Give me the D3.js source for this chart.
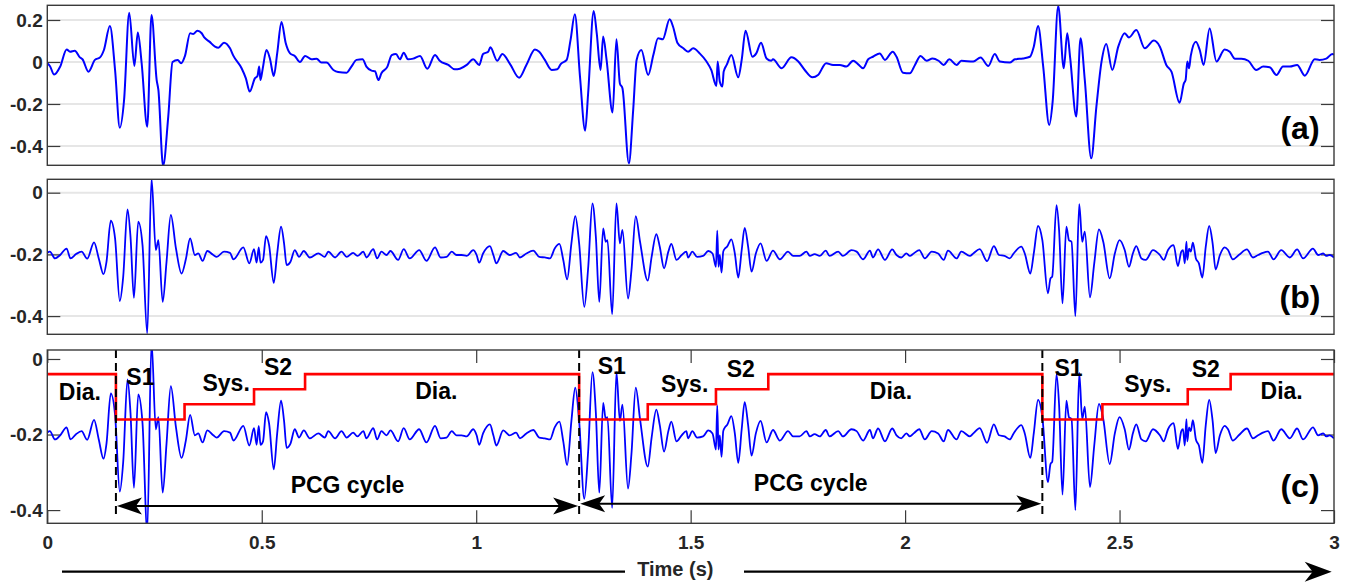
<!DOCTYPE html>
<html><head><meta charset="utf-8">
<script src="https://cdn.jsdelivr.net/npm/d3@7"></script>
<style>
body{margin:0;background:#fff}
svg{display:block}
text{font-family:"Liberation Sans",Arial,Helvetica,sans-serif;font-weight:bold}
</style>
</head><body>
<svg id="chart" width="1351" height="583"></svg>
<script>
// ---------------- DATA ----------------
// raw PCG signal (panel a): [time s, amplitude]
const rawSignal = [[0,-0.006],[0.006,-0.019],[0.016,-0.060],[0.030,-0.022],[0.045,0.060],[0.053,0.049],[0.064,0.054],[0.076,0.022],[0.082,0.013],[0.096,-0.046],[0.111,0.010],[0.123,0.022],[0.132,0.057],[0.146,0.171],[0.158,-0.038],[0.169,-0.313],[0.179,-0.181],[0.191,0.235],[0.203,-0.019],[0.211,0.140],[0.220,-0.006],[0.233,-0.308],[0.243,0.224],[0.255,-0.086],[0.259,-0.133],[0.270,-0.495],[0.282,-0.260],[0.292,0.000],[0.304,0.010],[0.312,-0.006],[0.321,0.029],[0.333,0.137],[0.340,0.133],[0.350,0.149],[0.360,0.137],[0.366,0.117],[0.378,0.097],[0.391,0.073],[0.399,0.068],[0.412,0.092],[0.426,0.065],[0.434,0.029],[0.453,-0.030],[0.463,-0.078],[0.472,-0.141],[0.484,-0.078],[0.490,-0.067],[0.494,-0.022],[0.497,-0.086],[0.502,-0.035],[0.511,0.057],[0.519,0.017],[0.528,-0.067],[0.536,0.041],[0.546,0.190],[0.556,0.089],[0.566,0.041],[0.577,0.029],[0.589,0.000],[0.601,0.029],[0.616,0.013],[0.628,0.016],[0.639,-0.003],[0.651,-0.003],[0.667,-0.038],[0.678,-0.048],[0.698,-0.051],[0.709,-0.022],[0.721,0.010],[0.735,0.013],[0.744,-0.022],[0.756,-0.041],[0.764,-0.044],[0.772,-0.086],[0.779,-0.054],[0.793,-0.022],[0.803,0.033],[0.813,0.038],[0.822,0.013],[0.831,0.044],[0.841,0.013],[0.853,0.016],[0.869,0.029],[0.886,-0.032],[0.904,0.033],[0.915,0.006],[0.935,-0.014],[0.950,-0.035],[0.962,-0.032],[0.978,-0.014],[0.993,0.013],[1.007,-0.014],[1.016,0.038],[1.028,0.049],[1.033,0.070],[1.049,0.006],[1.061,0.038],[1.079,-0.010],[1.100,-0.075],[1.117,-0.014],[1.137,0.060],[1.147,0.049],[1.160,0.010],[1.176,-0.038],[1.189,-0.035],[1.197,-0.010],[1.211,0.010],[1.220,0.105],[1.230,0.227],[1.242,-0.070],[1.254,-0.327],[1.261,-0.149],[1.274,0.243],[1.281,0.137],[1.290,-0.038],[1.296,0.121],[1.304,0.010],[1.318,-0.241],[1.327,0.108],[1.335,-0.102],[1.341,-0.125],[1.356,-0.483],[1.366,-0.229],[1.374,0.010],[1.385,0.057],[1.401,-0.062],[1.413,0.033],[1.424,0.113],[1.435,0.108],[1.451,0.203],[1.459,0.168],[1.469,0.092],[1.483,0.065],[1.494,0.049],[1.506,0.065],[1.521,0.041],[1.537,0.002],[1.548,-0.038],[1.560,-0.114],[1.563,0.002],[1.568,-0.094],[1.574,-0.117],[1.577,-0.046],[1.584,-0.014],[1.595,0.033],[1.611,-0.073],[1.619,0.010],[1.628,0.149],[1.644,0.025],[1.653,0.041],[1.664,0.092],[1.677,0.017],[1.688,0.006],[1.692,0.013],[1.712,-0.030],[1.735,0.022],[1.751,0.002],[1.766,-0.038],[1.784,-0.073],[1.797,-0.062],[1.816,-0.006],[1.832,-0.014],[1.848,-0.014],[1.863,-0.022],[1.879,0.006],[1.890,-0.010],[1.902,-0.030],[1.914,0.013],[1.925,0.025],[1.941,0.041],[1.953,0.010],[1.971,0.049],[1.980,0.025],[1.995,-0.051],[2.011,-0.054],[2.023,-0.014],[2.036,0.029],[2.050,0.006],[2.064,0.017],[2.078,0.006],[2.090,-0.014],[2.103,0.013],[2.120,-0.014],[2.131,0.006],[2.159,0.002],[2.176,0.021],[2.194,-0.019],[2.209,0.038],[2.221,0.002],[2.244,-0.003],[2.256,0.013],[2.275,0.017],[2.291,0.025],[2.300,0.073],[2.310,0.171],[2.322,-0.022],[2.336,-0.300],[2.344,-0.189],[2.357,0.267],[2.370,-0.030],[2.378,0.137],[2.385,0.017],[2.399,-0.260],[2.409,0.113],[2.419,-0.086],[2.434,-0.459],[2.446,-0.213],[2.458,0.002],[2.469,0.086],[2.483,-0.038],[2.497,0.073],[2.512,0.137],[2.522,0.117],[2.539,0.152],[2.559,0.065],[2.580,0.102],[2.594,0.073],[2.609,-0.014],[2.621,-0.046],[2.640,-0.194],[2.650,-0.102],[2.654,-0.086],[2.658,0.002],[2.662,-0.030],[2.666,0.029],[2.678,0.097],[2.687,0.057],[2.696,-0.014],[2.710,0.160],[2.726,0.002],[2.745,0.060],[2.757,0.049],[2.769,0.016],[2.784,0.016],[2.800,0.006],[2.819,-0.038],[2.835,-0.022],[2.850,-0.025],[2.866,-0.062],[2.881,-0.022],[2.897,-0.022],[2.914,-0.014],[2.932,-0.065],[2.955,0.013],[2.966,0.010],[2.982,0.016],[2.996,0.038],[3.0,0.035]];

// filtered PCG signal (panels b and c): [time s, amplitude]
const filteredSignal = [[0.000,-0.195],[0.006,-0.191],[0.018,-0.213],[0.030,-0.202],[0.045,-0.181],[0.054,-0.213],[0.067,-0.199],[0.080,-0.191],[0.093,-0.214],[0.109,-0.161],[0.120,-0.213],[0.131,-0.264],[0.138,-0.224],[0.148,-0.091],[0.158,-0.148],[0.169,-0.351],[0.177,-0.272],[0.187,-0.054],[0.194,-0.143],[0.202,-0.341],[0.212,-0.094],[0.222,-0.170],[0.233,-0.456],[0.243,0.046],[0.253,-0.186],[0.259,-0.154],[0.269,-0.354],[0.278,-0.224],[0.288,-0.072],[0.300,-0.181],[0.313,-0.262],[0.323,-0.216],[0.333,-0.148],[0.344,-0.202],[0.352,-0.197],[0.362,-0.221],[0.373,-0.189],[0.387,-0.202],[0.395,-0.208],[0.412,-0.191],[0.426,-0.195],[0.434,-0.216],[0.457,-0.177],[0.471,-0.229],[0.482,-0.183],[0.488,-0.227],[0.493,-0.177],[0.497,-0.227],[0.503,-0.218],[0.510,-0.141],[0.517,-0.170],[0.528,-0.292],[0.536,-0.197],[0.545,-0.110],[0.552,-0.164],[0.558,-0.235],[0.567,-0.224],[0.577,-0.186],[0.587,-0.208],[0.598,-0.189],[0.612,-0.210],[0.632,-0.197],[0.647,-0.208],[0.655,-0.191],[0.671,-0.210],[0.686,-0.191],[0.698,-0.208],[0.713,-0.195],[0.723,-0.205],[0.737,-0.191],[0.744,-0.210],[0.760,-0.183],[0.769,-0.213],[0.779,-0.191],[0.791,-0.202],[0.800,-0.189],[0.818,-0.218],[0.831,-0.183],[0.845,-0.213],[0.867,-0.186],[0.884,-0.221],[0.904,-0.177],[0.917,-0.210],[0.931,-0.208],[0.943,-0.191],[0.954,-0.202],[0.966,-0.202],[0.978,-0.205],[0.993,-0.186],[1.001,-0.202],[1.007,-0.227],[1.016,-0.197],[1.032,-0.173],[1.040,-0.202],[1.047,-0.229],[1.063,-0.189],[1.078,-0.202],[1.093,-0.195],[1.102,-0.210],[1.117,-0.197],[1.133,-0.188],[1.147,-0.208],[1.160,-0.210],[1.172,-0.213],[1.183,-0.181],[1.194,-0.166],[1.203,-0.218],[1.212,-0.281],[1.222,-0.164],[1.231,-0.076],[1.240,-0.164],[1.252,-0.370],[1.261,-0.245],[1.271,-0.035],[1.279,-0.143],[1.287,-0.354],[1.296,-0.116],[1.302,-0.159],[1.306,-0.154],[1.317,-0.394],[1.327,-0.035],[1.335,-0.164],[1.341,-0.121],[1.354,-0.343],[1.362,-0.251],[1.372,-0.076],[1.382,-0.159],[1.400,-0.285],[1.409,-0.208],[1.420,-0.134],[1.428,-0.175],[1.438,-0.245],[1.448,-0.191],[1.455,-0.166],[1.467,-0.218],[1.479,-0.202],[1.490,-0.191],[1.494,-0.210],[1.504,-0.191],[1.515,-0.208],[1.529,-0.205],[1.541,-0.189],[1.551,-0.197],[1.559,-0.240],[1.562,-0.123],[1.565,-0.240],[1.568,-0.202],[1.572,-0.259],[1.576,-0.191],[1.580,-0.181],[1.585,-0.175],[1.595,-0.151],[1.603,-0.197],[1.611,-0.275],[1.619,-0.186],[1.626,-0.114],[1.634,-0.175],[1.642,-0.256],[1.652,-0.197],[1.663,-0.164],[1.677,-0.221],[1.692,-0.188],[1.708,-0.216],[1.727,-0.191],[1.739,-0.205],[1.754,-0.205],[1.770,-0.191],[1.778,-0.205],[1.789,-0.199],[1.801,-0.205],[1.815,-0.188],[1.824,-0.205],[1.844,-0.191],[1.855,-0.205],[1.875,-0.186],[1.887,-0.191],[1.902,-0.216],[1.918,-0.188],[1.925,-0.210],[1.937,-0.184],[1.953,-0.218],[1.970,-0.184],[1.980,-0.202],[1.991,-0.210],[2.003,-0.197],[2.011,-0.205],[2.020,-0.197],[2.033,-0.186],[2.046,-0.213],[2.062,-0.191],[2.077,-0.197],[2.090,-0.218],[2.100,-0.188],[2.120,-0.213],[2.131,-0.191],[2.151,-0.205],[2.159,-0.197],[2.174,-0.183],[2.191,-0.222],[2.207,-0.173],[2.219,-0.202],[2.232,-0.205],[2.244,-0.213],[2.253,-0.197],[2.271,-0.175],[2.279,-0.197],[2.292,-0.262],[2.300,-0.197],[2.310,-0.108],[2.320,-0.154],[2.333,-0.326],[2.339,-0.278],[2.343,-0.272],[2.353,-0.040],[2.359,-0.121],[2.367,-0.359],[2.376,-0.110],[2.382,-0.154],[2.388,-0.159],[2.397,-0.400],[2.406,-0.037],[2.413,-0.159],[2.419,-0.126],[2.431,-0.339],[2.441,-0.229],[2.452,-0.119],[2.462,-0.159],[2.477,-0.278],[2.489,-0.197],[2.500,-0.154],[2.512,-0.186],[2.522,-0.240],[2.531,-0.197],[2.539,-0.173],[2.551,-0.213],[2.561,-0.218],[2.578,-0.186],[2.594,-0.202],[2.603,-0.218],[2.613,-0.186],[2.626,-0.170],[2.636,-0.238],[2.644,-0.191],[2.648,-0.186],[2.652,-0.229],[2.656,-0.159],[2.658,-0.218],[2.662,-0.181],[2.666,-0.191],[2.671,-0.162],[2.678,-0.213],[2.685,-0.229],[2.693,-0.275],[2.701,-0.175],[2.709,-0.108],[2.717,-0.164],[2.724,-0.249],[2.734,-0.202],[2.745,-0.177],[2.753,-0.186],[2.764,-0.216],[2.778,-0.202],[2.797,-0.184],[2.811,-0.210],[2.823,-0.202],[2.834,-0.195],[2.846,-0.191],[2.859,-0.216],[2.877,-0.186],[2.897,-0.210],[2.914,-0.184],[2.928,-0.213],[2.951,-0.181],[2.963,-0.202],[2.975,-0.197],[2.982,-0.205],[2.990,-0.202],[3.000,-0.210]];

// segmentation states (panel c)
const stateBounds = [0,0.16,0.32,0.482,0.601,1.24,1.40,1.559,1.681,2.32,2.46,2.659,2.759,3];
const stateNames  = ["Dia.","S1","Sys.","S2","Dia.","S1","Sys.","S2","Dia.","S1","Sys.","S2","Dia."];
const stateLevelNames = ["Dia.","S1","Sys.","S2"];
const stateLevelValues = [-0.04,-0.16,-0.12,-0.08];
const cycleStarts = [0.16,1.24,2.32];
const cycleArrowLevels = [-0.389,-0.383];

// axis ticks
const xTicks = [0,0.5,1,1.5,2,2.5,3];
const xTickLabels = ["0","0.5","1","1.5","2","2.5","3"];
const yTicksA = [-0.4,-0.2,0,0.2];
const yTickLabelsA = ["-0.4","-0.2","0","0.2"];
const yTicksB = [-0.4,-0.2,0];
const yTickLabelsB = ["-0.4","-0.2","0"];
const yTicksC = [-0.4,-0.2,0];
const yTickLabelsC = ["-0.4","-0.2","0"];

// annotation text (panel c), anchored in data coordinates
const phaseLabels = [
  {text:"Dia.",t:0.076,v:-0.109},{text:"S1",t:0.217,v:-0.068},{text:"Sys.",t:0.417,v:-0.085},{text:"S2",t:0.538,v:-0.042},{text:"Dia.",t:0.907,v:-0.106},
  {text:"S1",t:1.316,v:-0.040},{text:"Sys.",t:1.486,v:-0.088},{text:"S2",t:1.617,v:-0.048},{text:"Dia.",t:1.967,v:-0.106},
  {text:"S1",t:2.381,v:-0.045},{text:"Sys.",t:2.566,v:-0.088},{text:"S2",t:2.701,v:-0.048},{text:"Dia.",t:2.878,v:-0.106}
];
const cycleLabel = "PCG cycle";
const axisTitle = "Time (s)";

// ---------------- DRAW ----------------
const svg = d3.select("#chart");
const X0 = 47.3, X1 = 1334;
const x = d3.scaleLinear().domain([0,3]).range([X0,X1]);
const font = 19;
const axisColor = "#3a3a3a";
const labelColor = "#262626";

const panels = [
  {key:"a", top:5.3, bottom:165.3, domain:[-0.492,0.27], ticks:yTicksA, labels:yTickLabelsA, grid:true, data:rawSignal, lw:2, tag:"(a)"},
  {key:"b", top:179.3, bottom:334.3, domain:[-0.459,0.0434], ticks:yTicksB, labels:yTickLabelsB, grid:true, data:filteredSignal, lw:1.8, tag:"(b)"},
  {key:"c", top:350, bottom:523.3, domain:[-0.435,0.0238], ticks:yTicksC, labels:yTickLabelsC, grid:false, data:filteredSignal, lw:1.8, tag:"(c)"}
];

const defs = svg.append("defs");
panels.forEach(p => {
  p.y = d3.scaleLinear().domain(p.domain).range([p.bottom,p.top]);
  defs.append("clipPath").attr("id","clip-"+p.key).append("rect")
    .attr("x",X0).attr("y",p.top).attr("width",X1-X0).attr("height",p.bottom-p.top);
  const g = svg.append("g");
  if (p.grid) {
    g.selectAll("line.grid").data(p.ticks).join("line")
      .attr("x1",X0).attr("x2",X1).attr("y1",d=>p.y(d)).attr("y2",d=>p.y(d))
      .attr("stroke","#e6e6e6").attr("stroke-width",2);
  }
  const la = g.append("g").attr("transform",`translate(${X0},0)`)
    .call(d3.axisLeft(p.y).tickValues(p.ticks).tickSize(-13).tickPadding(4.6)
      .tickFormat((d,i)=>p.labels[i]));
  la.select(".domain").remove();
  la.selectAll("line").attr("stroke",axisColor).attr("stroke-width",1.2);
  la.selectAll("text").attr("fill",labelColor).style("font-size",font+"px")
    .style("font-family",'"Liberation Sans",Arial,sans-serif').style("font-weight","bold");
  const ra = g.append("g").attr("transform",`translate(${X1},0)`)
    .call(d3.axisRight(p.y).tickValues(p.ticks).tickSize(-13).tickFormat(""));
  ra.select(".domain").remove();
  ra.selectAll("line").attr("stroke",axisColor).attr("stroke-width",1.2);
});

// panel c x axes
const pc = panels[2];
const xb = svg.append("g").attr("transform",`translate(0,${pc.bottom})`)
  .call(d3.axisBottom(x).tickValues(xTicks).tickSize(-13).tickPadding(12).tickFormat((d,i)=>xTickLabels[i]));
xb.select(".domain").remove();
xb.selectAll("line").attr("stroke",axisColor).attr("stroke-width",1.2);
xb.selectAll("text").attr("fill",labelColor).style("font-size",font+"px")
  .style("font-family",'"Liberation Sans",Arial,sans-serif').style("font-weight","bold");
const xt = svg.append("g").attr("transform",`translate(0,${pc.top})`)
  .call(d3.axisTop(x).tickValues(xTicks).tickSize(-13).tickFormat(""));
xt.select(".domain").remove();
xt.selectAll("line").attr("stroke",axisColor).attr("stroke-width",1.2);

// signals
panels.forEach(p => {
  const line = d3.line().x(d=>x(d[0])).y(d=>p.y(d[1])).curve(d3.curveMonotoneX);
  svg.append("path").datum(p.data).attr("clip-path",`url(#clip-${p.key})`)
    .attr("fill","none").attr("stroke","#0000ff").attr("stroke-width",p.lw)
    .attr("stroke-linejoin","round").attr("d",line);
});

// state line in panel c
const levelOf = n => stateLevelValues[stateLevelNames.indexOf(n)];
const stepPts = stateNames.map((n,i)=>[stateBounds[i], levelOf(n)]);
stepPts.push([stateBounds[stateBounds.length-1], levelOf(stateNames[stateNames.length-1])]);
svg.append("path").datum(stepPts)
  .attr("fill","none").attr("stroke","#ff0000").attr("stroke-width",2.6)
  .attr("d", d3.line().x(d=>x(d[0])).y(d=>pc.y(d[1])).curve(d3.curveStepAfter));

// dashed cycle boundaries
svg.selectAll("line.cyc").data(cycleStarts).join("line")
  .attr("x1",d=>x(d)).attr("x2",d=>x(d)).attr("y1",pc.y(0.0238)).attr("y2",pc.y(-0.418))
  .attr("stroke","#000").attr("stroke-width",2).attr("stroke-dasharray","8,5");

// double-headed arrows
function head(xt, y, dir, L, W, N) {
  return `M${xt},${y} L${xt-dir*L},${y-W} L${xt-dir*N},${y} L${xt-dir*L},${y+W} Z`;
}
for (let i=0;i<cycleStarts.length-1;i++) {
  const xa = x(cycleStarts[i]) + 1, xbb = x(cycleStarts[i+1]) - 1, yy = pc.y(cycleArrowLevels[i]);
  svg.append("line").attr("x1",xa+10).attr("x2",xbb-10).attr("y1",yy).attr("y2",yy)
    .attr("stroke","#000").attr("stroke-width",2);
  svg.append("path").attr("d",head(xa,yy,-1,25,8.5,19)).attr("fill","#000");
  svg.append("path").attr("d",head(xbb,yy,1,25,8.5,19)).attr("fill","#000");
  svg.append("text").attr("x",(x(cycleStarts[i])+x(cycleStarts[i+1]))/2).attr("y",pc.y(cycleArrowLevels[i])-13)
    .attr("text-anchor","middle").style("font-size","23px").attr("fill","#000").text(cycleLabel);
}

// phase labels
svg.selectAll("text.phase").data(phaseLabels).join("text").attr("class","phase")
  .attr("x",d=>x(d.t)).attr("y",d=>pc.y(d.v)).attr("text-anchor","middle")
  .style("font-size","23px").attr("fill","#000").text(d=>d.text);

// panel tags
panels.forEach(p => {
  svg.append("text").attr("x",1300).attr("y",p.bottom-26).attr("text-anchor","middle")
    .style("font-size","32px").attr("fill","#000").text(p.tag);
});

// boxes on top
panels.forEach(p => {
  svg.append("rect").attr("x",X0).attr("y",p.top).attr("width",X1-X0).attr("height",p.bottom-p.top)
    .attr("fill","none").attr("stroke",axisColor).attr("stroke-width",1.4);
});

// time axis arrow
const ty = 571.7;
svg.append("line").attr("x1",62).attr("x2",625).attr("y1",ty).attr("y2",ty).attr("stroke","#000").attr("stroke-width",2.2);
svg.append("line").attr("x1",744).attr("x2",1315).attr("y1",ty).attr("y2",ty).attr("stroke","#000").attr("stroke-width",2.2);
svg.append("path").attr("d",head(1331.7,ty,1,27,10,19)).attr("fill","#000");
svg.append("text").attr("x",675.3).attr("y",ty+4).attr("text-anchor","middle")
  .style("font-size","20px").attr("fill",labelColor).text(axisTitle);
</script>
</body></html>
